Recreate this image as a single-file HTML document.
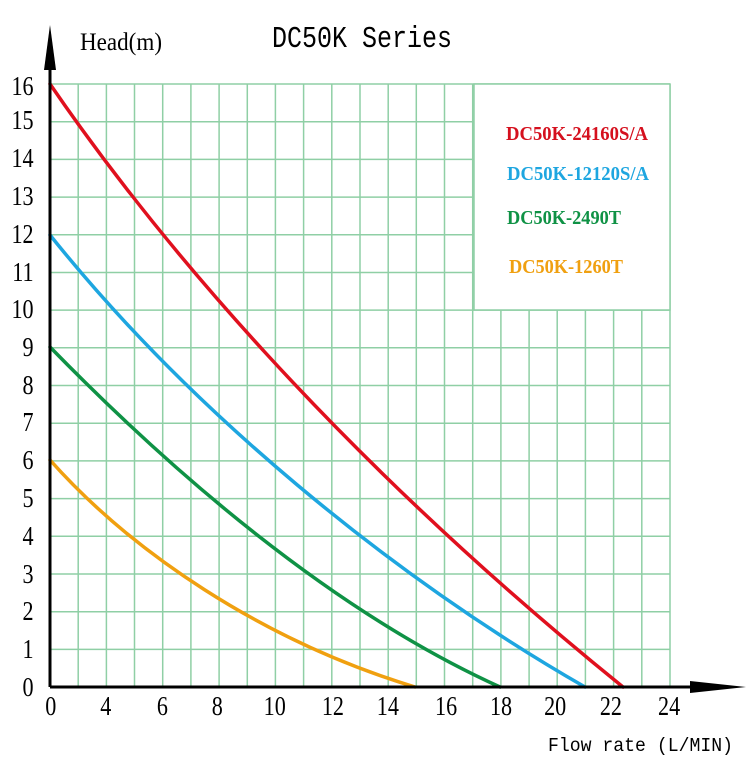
<!DOCTYPE html><html><head><style>body{margin:0;background:#fff}</style></head><body>
<svg width="750" height="764" xmlns="http://www.w3.org/2000/svg" font-family="Liberation Serif, serif">
<g stroke="#8fcfa5" stroke-width="1.5">
<line x1="78.2" y1="84" x2="78.2" y2="687"/><line x1="106.4" y1="84" x2="106.4" y2="687"/><line x1="134.5" y1="84" x2="134.5" y2="687"/><line x1="162.7" y1="84" x2="162.7" y2="687"/><line x1="190.9" y1="84" x2="190.9" y2="687"/><line x1="219.1" y1="84" x2="219.1" y2="687"/><line x1="247.3" y1="84" x2="247.3" y2="687"/><line x1="275.4" y1="84" x2="275.4" y2="687"/><line x1="303.6" y1="84" x2="303.6" y2="687"/><line x1="331.8" y1="84" x2="331.8" y2="687"/><line x1="360" y1="84" x2="360" y2="687"/><line x1="388.2" y1="84" x2="388.2" y2="687"/><line x1="416.3" y1="84" x2="416.3" y2="687"/><line x1="444.5" y1="84" x2="444.5" y2="687"/><line x1="472.7" y1="84" x2="472.7" y2="687"/><line x1="500.9" y1="84" x2="500.9" y2="687"/><line x1="529.1" y1="84" x2="529.1" y2="687"/><line x1="557.2" y1="84" x2="557.2" y2="687"/><line x1="585.4" y1="84" x2="585.4" y2="687"/><line x1="613.6" y1="84" x2="613.6" y2="687"/><line x1="641.8" y1="84" x2="641.8" y2="687"/><line x1="670" y1="84" x2="670" y2="687"/>
<line x1="50" y1="84" x2="670" y2="84"/><line x1="50" y1="121.7" x2="670" y2="121.7"/><line x1="50" y1="159.4" x2="670" y2="159.4"/><line x1="50" y1="197.1" x2="670" y2="197.1"/><line x1="50" y1="234.8" x2="670" y2="234.8"/><line x1="50" y1="272.5" x2="670" y2="272.5"/><line x1="50" y1="310.1" x2="670" y2="310.1"/><line x1="50" y1="347.8" x2="670" y2="347.8"/><line x1="50" y1="385.5" x2="670" y2="385.5"/><line x1="50" y1="423.2" x2="670" y2="423.2"/><line x1="50" y1="460.9" x2="670" y2="460.9"/><line x1="50" y1="498.6" x2="670" y2="498.6"/><line x1="50" y1="536.3" x2="670" y2="536.3"/><line x1="50" y1="574" x2="670" y2="574"/><line x1="50" y1="611.7" x2="670" y2="611.7"/><line x1="50" y1="649.4" x2="670" y2="649.4"/>
</g>
<rect x="474" y="84" width="196" height="226" fill="#fff" stroke="#8fcfa5" stroke-width="1.5"/>
<g fill="none" stroke-width="3.5" stroke-linecap="round">
<path stroke="#e0101e" d="M50,84 C150,230 330,450 623,687"/>
<path stroke="#1ea6e0" d="M50,235 C190,410 390,575 585,687"/>
<path stroke="#0f9245" d="M50,347 C170,470 330,610 500,687"/>
<path stroke="#f0a010" d="M50,460 C130,550 260,640 415,687"/>
</g>
<line x1="50" y1="687" x2="50" y2="60" stroke="#000" stroke-width="3"/>
<polygon points="50,25 44,70 56,70" fill="#000"/>
<line x1="50" y1="687" x2="700" y2="687" stroke="#000" stroke-width="3"/>
<polygon points="746,687 690,681 690,693" fill="#000"/>
<g font-size="27" text-anchor="end" transform="scale(0.82,1)">
<text x="41" y="95">16</text><text x="41" y="129">15</text><text x="41" y="167">14</text><text x="41" y="205">13</text><text x="41" y="243">12</text><text x="41" y="281">11</text><text x="41" y="318">10</text><text x="41" y="356">9</text><text x="41" y="394">8</text><text x="41" y="431">7</text><text x="41" y="469">6</text><text x="41" y="507">5</text><text x="41" y="545">4</text><text x="41" y="583">3</text><text x="41" y="620">2</text><text x="41" y="658">1</text><text x="41" y="696">0</text>
</g>
<g font-size="27" text-anchor="middle" transform="scale(0.82,1)">
<text x="62" y="715">0</text><text x="129" y="715">4</text><text x="198" y="715">6</text><text x="265" y="715">8</text><text x="335" y="715">10</text><text x="406" y="715">12</text><text x="473" y="715">14</text><text x="544" y="715">16</text><text x="611" y="715">18</text><text x="677" y="715">20</text><text x="745" y="715">22</text><text x="816" y="715">24</text>
</g>
<text x="80" y="50" font-size="25" textLength="82" lengthAdjust="spacingAndGlyphs">Head(m)</text>
<text x="272" y="47" font-size="31" font-family="Liberation Mono, monospace" textLength="180" lengthAdjust="spacingAndGlyphs">DC50K Series</text>
<text x="548" y="751" font-size="19" font-family="Liberation Mono, monospace" textLength="185" lengthAdjust="spacingAndGlyphs">Flow rate (L/MIN)</text>
<g font-size="20" font-weight="bold">
<text x="506" y="140" fill="#d5101e" textLength="142" lengthAdjust="spacingAndGlyphs">DC50K-24160S/A</text>
<text x="507" y="180" fill="#1ea6e0" textLength="142" lengthAdjust="spacingAndGlyphs">DC50K-12120S/A</text>
<text x="507" y="224" fill="#0f9245" textLength="114" lengthAdjust="spacingAndGlyphs">DC50K-2490T</text>
<text x="509" y="273" fill="#f0a010" textLength="114" lengthAdjust="spacingAndGlyphs">DC50K-1260T</text>
</g>
</svg></body></html>
